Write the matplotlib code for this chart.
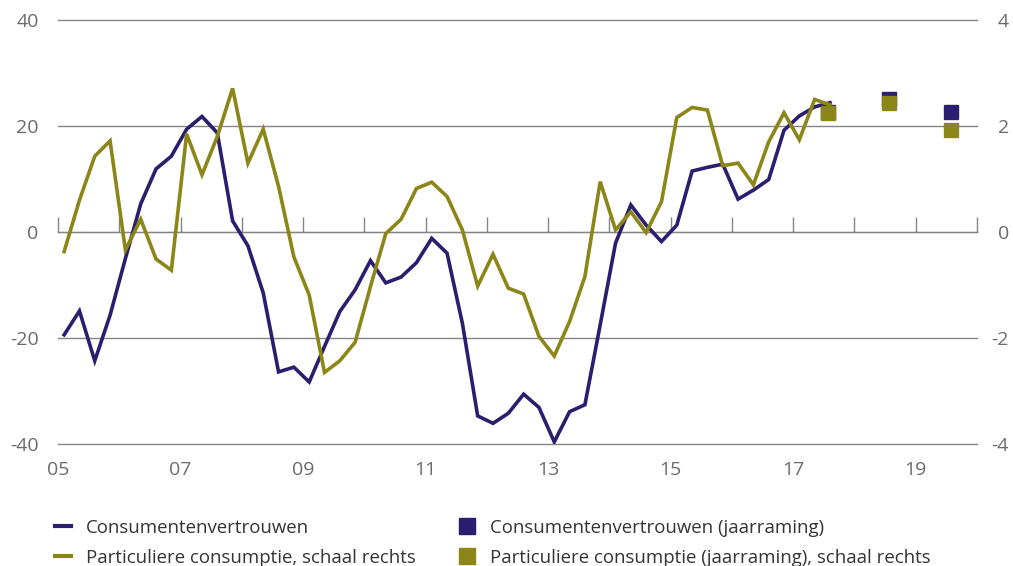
import numpy as np
import matplotlib
matplotlib.use("Agg")
import matplotlib.pyplot as plt
from matplotlib.lines import Line2D

plt.rcParams["font.family"] = ["Open Sans", "DejaVu Sans"]
plt.rcParams["axes.unicode_minus"] = False

# Quarterly series, 2005Q1 .. 2017Q3
consumentenvertrouwen = [
    -19.4, -14.9, -24.3, -15.7, -5.0, 5.3, 11.9, 14.3, 19.4, 21.8, 18.7, 2.1,
    -2.6, -11.5, -26.4, -25.5, -28.3, -21.6, -15.0, -10.9, -5.4, -9.6, -8.5, -5.8,
    -1.2, -4.0, -17.2, -34.7, -36.1, -34.2, -30.6, -33.1, -39.6, -33.9, -32.6, -17.5,
    -2.1, 5.1, 1.3, -1.8, 1.3, 11.5, 12.2, 12.8, 6.2, 7.9, 9.9, 19.2,
    21.9, 23.6, 24.4,
]
consumptie = [
    -0.37, 0.60, 1.43, 1.72, -0.34, 0.24, -0.51, -0.72, 1.85, 1.08, 1.80, 2.71,
    1.30, 1.94, 0.86, -0.47, -1.19, -2.65, -2.43, -2.08, -1.03, -0.03, 0.24, 0.82,
    0.94, 0.67, 0.04, -1.02, -0.42, -1.06, -1.17, -1.97, -2.34, -1.69, -0.84, 0.95,
    0.04, 0.38, -0.01, 0.57, 2.16, 2.35, 2.30, 1.25, 1.30, 0.89, 1.70, 2.25,
    1.74, 2.50, 2.40,
]

# Annual forecasts (jaarraming)
raming_jaren = [2017, 2018, 2019]
raming_vertrouwen = [22.7, 25.0, 22.7]
raming_consumptie = [2.25, 2.44, 1.92]

tick_years = list(range(2005, 2021))
label_years = list(range(2005, 2020, 2))

NAVY = "#2b1e6f"
OLIVE = "#8c8618"
GRID = "#858585"
TICKTXT = "#6b6b6b"

t = 2005 + (np.arange(len(consumentenvertrouwen)) + 0.4) / 4
t_raming = np.array(raming_jaren) + 0.57

fig = plt.figure(figsize=(10.13, 5.66), dpi=100)
ax = fig.add_axes([58 / 1013, 1 - 444 / 566, (977 - 58) / 1013, (444 - 20) / 566])
ax2 = ax.twinx()

ax.plot(t, consumentenvertrouwen, color=NAVY, lw=2.6, solid_joinstyle="miter")
ax.plot(t_raming, raming_vertrouwen, ls="none", marker="s", ms=10.5, color=NAVY)
ax2.plot(t, consumptie, color=OLIVE, lw=2.6, solid_joinstyle="miter")
ax2.plot(t_raming, raming_consumptie, ls="none", marker="s", ms=10.5, color=OLIVE)

ax.set_xlim(2005, 2020)
ax.set_ylim(-40, 40)
ax2.set_ylim(-4, 4)
ax.set_yticks([-40, -20, 0, 20, 40])
ax2.set_yticks([-4, -2, 0, 2, 4])
ax.yaxis.grid(True, color=GRID, lw=1.0)
for gl in ax.get_ygridlines():
    gl.set_clip_on(False)
ax.set_axisbelow(True)

for a in (ax, ax2):
    for s in a.spines.values():
        s.set_visible(False)

ax.tick_params(axis="y", length=0, pad=14, labelsize=14, labelcolor=TICKTXT)
ax2.tick_params(axis="y", length=0, pad=23, labelsize=14, labelcolor=TICKTXT)
for lbl in ax2.get_yticklabels():
    lbl.set_horizontalalignment("right")

ax.set_xticks(label_years)
ax.set_xticklabels([f"{y % 100:02d}" for y in label_years])
ax.tick_params(axis="x", length=0, pad=12, labelsize=14, labelcolor=TICKTXT)

# year ticks hanging from the zero line
sec = ax.secondary_xaxis(0.5)
sec.set_xticks(tick_years)
sec.set_xticklabels([])
sec.tick_params(axis="x", direction="out", length=11, width=1.0, color=GRID)
sec.spines["bottom"].set_visible(False)

h1 = [Line2D([], [], color=NAVY, lw=3),
      Line2D([], [], color=OLIVE, lw=3)]
l1 = ["Consumentenvertrouwen", "Particuliere consumptie, schaal rechts"]
h2 = [Line2D([], [], ls="none", marker="s", ms=11, color=NAVY),
      Line2D([], [], ls="none", marker="s", ms=11, color=OLIVE)]
l2 = ["Consumentenvertrouwen (jaarraming)",
      "Particuliere consumptie (jaarraming), schaal rechts"]

leg_kw = dict(loc="upper left", frameon=False, fontsize=13.4, handlelength=0.85,
              handletextpad=0.8, labelspacing=0.62, borderpad=0, borderaxespad=0,
              labelcolor="#333333")
fig.legend(h1, l1, bbox_to_anchor=(55 / 1013, 1 - 519 / 566), **leg_kw)
fig.legend(h2, l2, bbox_to_anchor=(459 / 1013, 1 - 519 / 566), **leg_kw)

fig.savefig("out.png", dpi=100)
